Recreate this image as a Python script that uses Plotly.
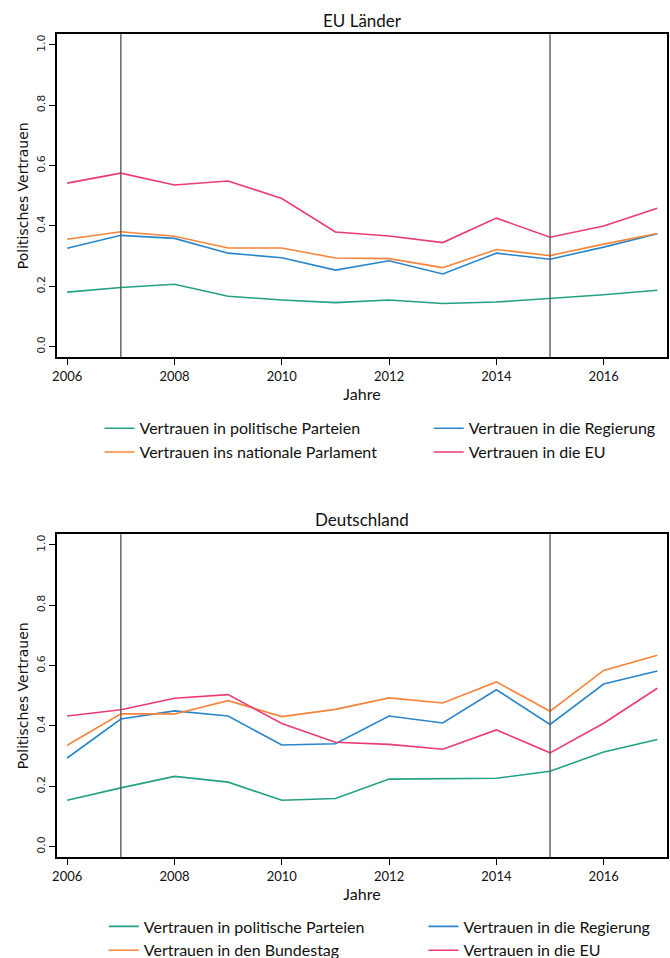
import plotly.graph_objects as go

years = list(range(2006, 2018))

# EU Länder
eu_parteien = [0.181, 0.196, 0.207, 0.167, 0.155, 0.146, 0.155, 0.143, 0.148, 0.160, 0.172, 0.187]
eu_regierung = [0.326, 0.369, 0.359, 0.310, 0.295, 0.254, 0.285, 0.241, 0.310, 0.290, 0.330, 0.374]
eu_parlament = [0.356, 0.381, 0.366, 0.327, 0.327, 0.294, 0.292, 0.262, 0.322, 0.302, 0.340, 0.375]
eu_eu = [0.542, 0.575, 0.536, 0.549, 0.491, 0.380, 0.367, 0.345, 0.426, 0.363, 0.400, 0.459]

# Deutschland
de_parteien = [0.154, 0.195, 0.233, 0.214, 0.154, 0.160, 0.224, 0.226, 0.227, 0.250, 0.314, 0.355]
de_regierung = [0.294, 0.423, 0.450, 0.433, 0.337, 0.341, 0.433, 0.410, 0.520, 0.405, 0.539, 0.582]
de_bundestag = [0.336, 0.440, 0.440, 0.484, 0.431, 0.455, 0.493, 0.476, 0.546, 0.449, 0.584, 0.634]
de_eu = [0.433, 0.454, 0.492, 0.504, 0.408, 0.346, 0.339, 0.323, 0.387, 0.311, 0.409, 0.525]

marker_years = [2007, 2015]
x_tickvals = [2006, 2008, 2010, 2012, 2014, 2016]
y_tickvals = [0.0, 0.2, 0.4, 0.6, 0.8, 1.0]
y_ticktext = ["0.0", "0.2", "0.4", "0.6", "0.8", "1.0"]

C_TEAL = "#22a184"
C_BLUE = "#2a86c8"
C_ORANGE = "#f7843a"
C_PINK = "#ec3a76"

W, H = 670, 958
SANS = "Lato, 'Open Sans', sans-serif"
DEJ = "'DejaVu Sans', sans-serif"


def px(x):
    return x / W


def py(y):
    return 1 - y / H


fig = go.Figure()

# (name, values, colour, legend id)
top_series = [
    ("Vertrauen in politische Parteien", eu_parteien, C_TEAL, "legend"),
    ("Vertrauen in die Regierung", eu_regierung, C_BLUE, "legend2"),
    ("Vertrauen ins nationale Parlament", eu_parlament, C_ORANGE, "legend"),
    ("Vertrauen in die EU", eu_eu, C_PINK, "legend2"),
]
bot_series = [
    ("Vertrauen in politische Parteien", de_parteien, C_TEAL, "legend3"),
    ("Vertrauen in die Regierung", de_regierung, C_BLUE, "legend4"),
    ("Vertrauen in den Bundestag", de_bundestag, C_ORANGE, "legend3"),
    ("Vertrauen in die EU", de_eu, C_PINK, "legend4"),
]

for name, vals, col, lg in top_series:
    fig.add_trace(go.Scatter(x=years, y=vals, mode="lines", name=name,
                             line=dict(color=col, width=1.6),
                             xaxis="x", yaxis="y", legend=lg))
for name, vals, col, lg in bot_series:
    fig.add_trace(go.Scatter(x=years, y=vals, mode="lines", name=name,
                             line=dict(color=col, width=1.6),
                             xaxis="x2", yaxis="y2", legend=lg))

# vertical reference lines
for xr, yr in (("x", "y"), ("x2", "y2")):
    for yv in marker_years:
        fig.add_shape(type="line", xref=xr, yref=yr + " domain", x0=yv, x1=yv, y0=0, y1=1,
                      line=dict(color="#5a5a5a", width=1.4), layer="above")

x_dom = [px(57), px(667)]
top_dom = [py(357.3), py(34.3)]
bot_dom = [py(857.3), py(534.3)]

xaxis_common = dict(
    range=[2005.81, 2017.18], tickvals=x_tickvals, ticks="outside", ticklen=6,
    tickcolor="black", tickwidth=1, showline=True, mirror=True, linecolor="black",
    linewidth=1.5, showgrid=False, zeroline=False, automargin=False,
    tickfont=dict(family=SANS, size=13, color="#111"),
    title=dict(text="Jahre", font=dict(family=SANS, size=16, color="#111"), standoff=0),
    domain=x_dom,
)
yaxis_common = dict(
    range=[-0.035, 1.035], tickvals=y_tickvals, ticktext=y_ticktext, tickangle=-90,
    ticks="outside", ticklen=6, tickcolor="black", tickwidth=1, showline=True,
    mirror=True, linecolor="black", linewidth=1.5, showgrid=False, zeroline=False,
    automargin=False,
    tickfont=dict(family=DEJ, size=11, color="#222"),
    title=dict(text="Politisches Vertrauen", font=dict(family=DEJ, size=14, color="#111"),
               standoff=3),
)

legend_common = dict(
    orientation="v",
    font=dict(family=SANS, size=16, color="#111"), bgcolor="rgba(0,0,0,0)",
    xanchor="left", yanchor="top", traceorder="normal", tracegroupgap=0,
)

fig.update_layout(
    width=W, height=H,
    margin=dict(l=0, r=0, t=0, b=0, autoexpand=False),
    paper_bgcolor="white", plot_bgcolor="white",
    xaxis=dict(**xaxis_common, anchor="y"),
    yaxis=dict(**yaxis_common, domain=top_dom, anchor="x"),
    xaxis2=dict(**xaxis_common, anchor="y2"),
    yaxis2=dict(**yaxis_common, domain=bot_dom, anchor="x2"),
    legend=dict(**legend_common, x=px(139.5 - 40), y=py(428.3 - 17)),
    legend2=dict(**legend_common, x=px(468.7 - 40), y=py(428.3 - 17)),
    legend3=dict(**legend_common, x=px(143.8 - 40), y=py(926.5 - 17)),
    legend4=dict(**legend_common, x=px(463.5 - 40), y=py(926.5 - 17)),
    annotations=[
        dict(text="EU Länder", x=(x_dom[0] + x_dom[1]) / 2, y=py(20), xref="paper",
             yref="paper", showarrow=False, font=dict(family=SANS, size=17, color="#111"),
             xanchor="center", yanchor="middle"),
        dict(text="Deutschland", x=(x_dom[0] + x_dom[1]) / 2, y=py(519.5), xref="paper",
             yref="paper", showarrow=False, font=dict(family=SANS, size=17, color="#111"),
             xanchor="center", yanchor="middle"),
    ],
    showlegend=True,
)

# remove the default 8px page margin so the figure fills the window exactly
fig.write_html("out.html", config={"displayModeBar": False},
               post_script="document.body.style.margin='0px';")
